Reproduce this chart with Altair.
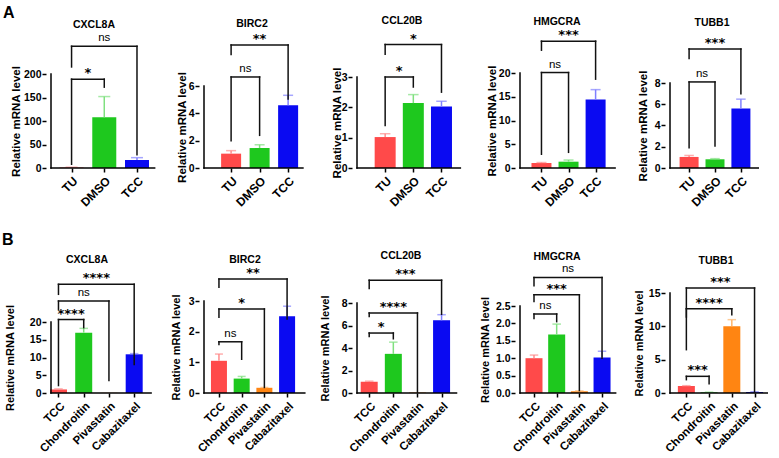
import altair as alt
import pandas as pd

# ---------------- data ----------------
genes = ["CXCL8A", "BIRC2", "CCL20B", "HMGCRA", "TUBB1"]
ylabel = "Relative mRNA level"

groups_a = ["TU", "DMSO", "TCC"]
groups_b = ["TCC", "Chondroitin", "Pivastatin", "Cabazitaxel"]

# panel A values / upper SD
a_cxcl8a = [1.0, 108.0, 17.0]
a_cxcl8a_err = [0.6, 44.0, 5.0]
a_birc2 = [1.05, 1.46, 4.6]
a_birc2_err = [0.22, 0.24, 0.72]
a_ccl20b = [1.02, 2.14, 2.03]
a_ccl20b_err = [0.11, 0.28, 0.17]
a_hmgcra = [1.05, 1.33, 14.4]
a_hmgcra_err = [0.1, 0.35, 2.1]
a_tubb1 = [1.04, 0.82, 5.6]
a_tubb1_err = [0.14, 0.06, 0.88]

# panel B values / upper SD
b_cxcl8a = [1.0, 17.0, 0.05, 10.9]
b_cxcl8a_err = [0.15, 1.2, 0.0, 0.2]
b_birc2 = [1.05, 0.47, 0.17, 2.5]
b_birc2_err = [0.22, 0.07, 0.01, 0.33]
b_ccl20b = [1.0, 3.48, 0.04, 6.46]
b_ccl20b_err = [0.05, 1.04, 0.0, 0.5]
b_hmgcra = [1.0, 1.68, 0.05, 1.02]
b_hmgcra_err = [0.09, 0.3, 0.01, 0.18]
b_tubb1 = [1.05, 0.1, 10.0, 0.15]
b_tubb1_err = [0.05, 0.02, 1.0, 0.03]

# y tick values
ticks_a = [[0, 50, 100, 150, 200], [0, 2, 4, 6], [0, 1, 2, 3], [0, 5, 10, 15, 20], [0, 2, 4, 6, 8]]
ticks_b = [[0, 5, 10, 15, 20], [0, 1, 2, 3], [0, 2, 4, 6, 8], [0, 0.5, 1.0, 1.5, 2.0, 2.5], [0, 5, 10, 15]]
fmt_b = ["d", "d", "d", ".1f", "d"]

# significance brackets: (from, to, label, top, left end, right end) in data units
br_a = [
    [(0, 2, "ns", 259, 215, 28), (0, 1, "*", 189, 8, 172)],
    [(0, 2, "**", 9.0, 8.3, 5.05), (0, 1, "ns", 6.66, 2.0, 2.39)],
    [(0, 2, "*", 4.07, 3.75, 2.5), (0, 1, "*", 3.0, 1.4, 2.67)],
    [(0, 2, "***", 26.7, 24.8, 18.7), (0, 1, "ns", 20.1, 2.9, 3.3)],
    [(0, 2, "***", 11.2, 10.3, 7.0), (0, 1, "ns", 8.1, 1.9, 2.06)],
]
br_b = [
    [(0, 3, "****", 30.6, 27.8, 8.0), (0, 2, "ns", 25.9, 23.6, 3.5), (0, 1, "****", 20.7, 2.1, 18.4)],
    [(0, 3, "**", 3.72, 3.45, 2.41), (0, 2, "*", 2.74, 2.47, 0.18), (0, 1, "ns", 1.67, 1.58, 1.1)],
    [(0, 3, "***", 10.03, 9.29, 7.0), (0, 2, "****", 7.11, 6.8, 0.06), (0, 1, "*", 5.33, 5.03, 4.82)],
    [(0, 3, "ns", 3.32, 3.08, 1.0), (0, 2, "***", 2.82, 2.63, 0.07), (0, 1, "ns", 2.27, 2.14, 2.05)],
    [(0, 3, "***", 15.75, 6.5, 0.1), (0, 2, "****", 12.65, 11.4, 11.75), (0, 1, "***", 2.5, 2.0, 1.4)],
]

# ---------------- styles ----------------
col_a = ["#FF4A4A", "#1EC81E", "#0A0AF2"]
ecol_a = ["#FF8C8C", "#7FE07F", "#8080FF"]
col_b = ["#FF4A4A", "#1EC81E", "#FF8512", "#0A0AF2"]
ecol_b = ["#FF8C8C", "#7FE07F", "#FFB56A", "#8080FF"]

FONT = "Liberation Sans"
TFONT = "Liberation Sans Narrow, Liberation Sans"
STARFONT = "DejaVu Sans"

col_w = [153, 153, 163, 150, 110]
H_A, H_B = 95, 100

# layout per panel: first-bar offset px, px per category, x-axis end (units),
# bar width, visible y-axis span px, title centre x, title y, y-title x
lay_a = [
    dict(off=22, pxu=35, end=2.54, bw=24, h=94, tx=48, ty=-48, yt=-30),
    dict(off=29, pxu=30.5, end=2.52, bw=20, h=82, tx=53, ty=-49, yt=-17),
    dict(off=30, pxu=30, end=2.67, bw=21, h=91, tx=50, ty=-52, yt=-15),
    dict(off=23, pxu=29, end=2.72, bw=20, h=95, tx=42, ty=-51, yt=-23),
    dict(off=21, pxu=28.5, end=2.67, bw=19, h=85, tx=47, ty=-50, yt=-22),
]
lay_b = [
    dict(off=8, pxu=27, end=3.67, bw=17, h=71, tx=41, ty=-33, yt=-36),
    dict(off=16, pxu=24.3, end=3.78, bw=16, h=92, tx=46, ty=-33, yt=-23),
    dict(off=13, pxu=25.7, end=3.62, bw=17, h=90, tx=49, ty=-37, yt=-27),
    dict(off=15, pxu=24.3, end=3.6, bw=17, h=87, tx=42, ty=-36, yt=-30),
    dict(off=18, pxu=25, end=3.56, bw=17, h=100, tx=51, ty=-32, yt=-26),
]


def panel(gene, cats, vals, errs, cols, ecols, ticks, fmt, brackets, lay, W, H,
          ytitle_size, xlab_size, letter=None, anchor=False):
    n = len(cats)
    pxu = lay["pxu"]
    d0 = -lay["off"] / pxu
    d1 = d0 + W / pxu
    top_tick = ticks[-1]
    dmax = top_tick * H / lay["h"]

    xscale = alt.Scale(domain=[d0, d1], nice=False, zero=False)
    yscale = alt.Scale(domain=[0, dmax], nice=False, zero=False)
    label_arr = "[" + ",".join("'%s'" % c for c in cats) + "]"
    xaxis = alt.Axis(values=list(range(n)), labelExpr=label_arr + "[datum.value]",
                     labelAngle=-45, labelAlign="right", labelBaseline="top",
                     labelPadding=3, labelFont=FONT, labelFontSize=xlab_size,
                     labelFontWeight="bold", labelColor="black", labelOverlap=False,
                     labelFlush=False, domain=False, tickSize=4, tickWidth=1.5,
                     tickColor="black", grid=False, title=None)
    yaxis = alt.Axis(values=ticks, format=fmt, domain=False, tickSize=4, tickWidth=1.5,
                     tickColor="black", labelPadding=1, labelFont=FONT, labelFontSize=10.5,
                     labelFontWeight="bold", labelColor="black", labelOverlap=False,
                     labelFlush=False, grid=False, title=ylabel, titleFont=FONT,
                     titleFontSize=ytitle_size, titleFontWeight="bold", titleColor="black",
                     titleX=lay["yt"], titleY=H - lay["h"] / 2, titleAngle=-90,
                     titleAlign="center", titleBaseline="middle")

    def ex(f):
        return alt.X(f"{f}:Q", scale=xscale, axis=xaxis)

    def ey(f):
        return alt.Y(f"{f}:Q", scale=yscale, axis=yaxis)

    df = pd.DataFrame({
        "pos": list(range(n)), "val": vals, "err": errs,
        "top": [v + e for v, e in zip(vals, errs)],
        "color": cols, "ecolor": ecols,
    })
    bars = alt.Chart(df).mark_bar(size=lay["bw"]).encode(
        x=ex("pos"), y=ey("val"), color=alt.Color("color:N", scale=None))
    ebar = alt.Chart(df).transform_filter("datum.err > 0").mark_rule(strokeWidth=1.5).encode(
        x=ex("pos"), y=ey("val"), y2="top:Q", color=alt.Color("ecolor:N", scale=None))
    ecap = alt.Chart(df).transform_filter("datum.err > 0").mark_tick(
        orient="horizontal", size=lay["bw"] * 0.5, thickness=1.5).encode(
        x=ex("pos"), y=ey("top"), color=alt.Color("ecolor:N", scale=None))

    axdf = pd.DataFrame({"x0": [d0], "x1": [lay["end"]], "y0": [0], "yt": [top_tick]})
    xline = alt.Chart(axdf).mark_rule(strokeWidth=1.5, color="black", strokeCap="square").encode(
        x=ex("x0"), x2="x1:Q", y=ey("y0"))
    yline = alt.Chart(axdf).mark_rule(strokeWidth=1.5, color="black", strokeCap="square").encode(
        x=ex("x0"), y=ey("y0"), y2="yt:Q")

    segs = []
    labs = []
    for (i, j, lab, top, le, re) in brackets:
        segs.append((i, j, top, top))
        segs.append((i, i, le, top))
        segs.append((j, j, re, top))
        labs.append(((i + j) / 2, top, lab, lab.startswith("*")))
    sdf = pd.DataFrame(segs, columns=["bx", "bx2", "by", "by2"])
    ldf = pd.DataFrame(labs, columns=["mx", "my", "lab", "star"])
    brk = alt.Chart(sdf).mark_rule(strokeWidth=1.5, color="#111111", strokeCap="square").encode(
        x=ex("bx"), x2="bx2:Q", y=ey("by"), y2="by2:Q")
    ns_t = alt.Chart(ldf).transform_filter("!datum.star").mark_text(
        font=FONT, fontSize=11.5, color="black", baseline="alphabetic", dy=-5).encode(
        x=ex("mx"), y=ey("my"), text="lab:N")
    st_t = alt.Chart(ldf).transform_filter("datum.star").mark_text(
        font=STARFONT, fontSize=13, fontWeight="bold", color="black",
        baseline="alphabetic", dy=-2).encode(
        x=ex("mx"), y=ey("my"), text="lab:N")

    ttl = alt.Chart(pd.DataFrame({"t": [gene]})).mark_text(
        font=TFONT, fontSize=10.5, fontWeight="bold", color="black", baseline="middle",
        align="center").encode(x=alt.value(lay["tx"]), y=alt.value(lay["ty"]), text="t:N")

    layers = [bars, ebar, ecap, xline, yline, brk, ns_t, st_t, ttl]
    if letter is not None:
        layers.append(alt.Chart(pd.DataFrame({"t": [letter[0]]})).mark_text(
            font=FONT, fontSize=16, fontWeight="bold", color="black", align="left",
            baseline="alphabetic").encode(x=alt.value(letter[1]), y=alt.value(letter[2]), text="t:N"))
    if anchor:
        layers.append(alt.Chart(pd.DataFrame({"a": [0]})).mark_rule(
            color="white", strokeWidth=1).encode(
            x=alt.value(-45.5), x2=alt.value(-44.5), y=alt.value(-72.5), y2=alt.value(-72.5)))
    return alt.layer(*layers).properties(width=W, height=H)


vals_a = [a_cxcl8a, a_birc2, a_ccl20b, a_hmgcra, a_tubb1]
errs_a = [a_cxcl8a_err, a_birc2_err, a_ccl20b_err, a_hmgcra_err, a_tubb1_err]
vals_b = [b_cxcl8a, b_birc2, b_ccl20b, b_hmgcra, b_tubb1]
errs_b = [b_cxcl8a_err, b_birc2_err, b_ccl20b_err, b_hmgcra_err, b_tubb1_err]

panels = []
for k in range(5):
    panels.append(panel(genes[k], groups_a, vals_a[k], errs_a[k], col_a, ecol_a, ticks_a[k], "d",
                        br_a[k], lay_a[k], col_w[k], H_A, 11.5, 12,
                        letter=("A", -43, -55) if k == 0 else None, anchor=(k == 0)))
for k in range(5):
    panels.append(panel(genes[k], groups_b, vals_b[k], errs_b[k], col_b, ecol_b, ticks_b[k], fmt_b[k],
                        br_b[k], lay_b[k], col_w[k], H_B, 11, 11.5,
                        letter=("B", -44, -48) if k == 0 else None))

chart = alt.concat(*panels, columns=5, spacing={"row": 125, "column": 0},
                   bounds="flush", align="each").properties(padding=0).configure_view(stroke=None)

chart.save("out.html", embed_options={"renderer": "svg", "actions": False})
